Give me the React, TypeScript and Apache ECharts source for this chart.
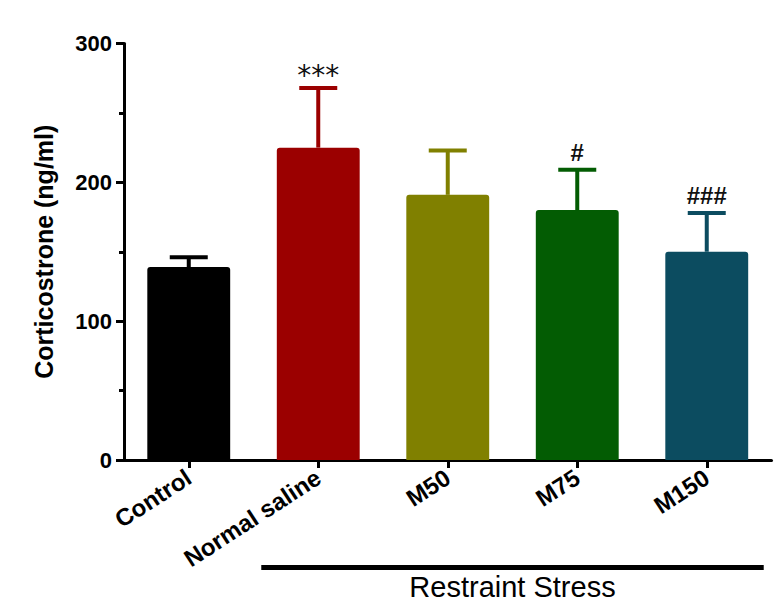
import React, { useEffect, useRef } from "react";
import * as echarts from "echarts";

const categories = ["Control", "Normal saline", "M50", "M75", "M150"];
const means = [139, 225, 191, 180, 150];
const upperErrors = [146, 268, 223, 209, 178];
const annotations = ["", "***", "", "#", "###"];
const barColors = ["#000000", "#9b0000", "#808000", "#035c03", "#0c4c60"];
const yMin = 0;
const yMax = 300;
const yInterval = 100;
const groupLabel = "Restraint Stress";
const yTitle = "Corticostrone (ng/ml)";

const FONT = "'Liberation Sans', Arial, Helvetica, sans-serif";

export default function App() {
  const ref = useRef<HTMLDivElement | null>(null);

  useEffect(() => {
    if (!ref.current) return;
    const chart = echarts.init(ref.current, undefined, { renderer: "svg" });

    const option: any = {
      animation: false,
      backgroundColor: "#ffffff",
      grid: { left: 124, right: 5.5, top: 43.5, bottom: 142, containLabel: false },
      xAxis: {
        type: "category",
        data: categories,
        axisLine: { show: true, lineStyle: { color: "#000", width: 3 } },
        axisTick: { show: true, alignWithLabel: true, length: 8, lineStyle: { color: "#000", width: 3 } },
        axisLabel: {
          rotate: 33,
          margin: 15,
          color: "#000",
          fontFamily: FONT,
          fontWeight: "bold",
          fontSize: 24,
          interval: 0,
        },
        splitLine: { show: false },
      },
      yAxis: {
        type: "value",
        min: yMin,
        max: yMax,
        interval: yInterval,
        name: yTitle,
        nameLocation: "middle",
        nameRotate: 90,
        nameGap: 68,
        nameTextStyle: { color: "#000", fontFamily: FONT, fontWeight: "bold", fontSize: 25 },
        axisLine: { show: true, lineStyle: { color: "#000", width: 3 } },
        axisTick: { show: true, length: 8, lineStyle: { color: "#000", width: 3 } },
        minorTick: { show: true, splitNumber: 2, length: 5, lineStyle: { color: "#000", width: 3 } },
        axisLabel: {
          margin: 12,
          color: "#000",
          fontFamily: FONT,
          fontWeight: "bold",
          fontSize: 22,
        },
        splitLine: { show: false },
      },
      series: [
        {
          type: "bar",
          barWidth: "64%",
          data: means.map((v, i) => ({
            value: v,
            itemStyle: { color: barColors[i], borderRadius: [3, 3, 0, 0] },
          })),
          z: 2,
        },
        {
          type: "custom",
          z: 3,
          encode: { x: 0, y: [1, 2] },
          data: categories.map((_, i) => [i, means[i], upperErrors[i]]),
          renderItem: (params: any, api: any) => {
            const idx = params.dataIndex;
            const base = api.coord([api.value(0), api.value(1)]);
            const top = api.coord([api.value(0), api.value(2)]);
            const color = barColors[idx];
            const capHalf = 19;
            const children: any[] = [
              {
                type: "line",
                shape: { x1: base[0], y1: base[1], x2: top[0], y2: top[1] },
                style: { stroke: color, lineWidth: 4 },
              },
              {
                type: "line",
                shape: { x1: top[0] - capHalf, y1: top[1], x2: top[0] + capHalf, y2: top[1] },
                style: { stroke: color, lineWidth: 4 },
              },
            ];
            const ann = annotations[idx];
            if (ann) {
              const isStar = ann.indexOf("*") >= 0;
              children.push({
                type: "text",
                x: top[0],
                y: top[1] + (isStar ? -12 : -17),
                style: {
                  text: ann,
                  fill: "#111",
                  font: isStar ? `28px 'DejaVu Sans', sans-serif` : `bold 24px ${FONT}`,
                  textAlign: "center",
                  textVerticalAlign: "middle",
                },
              });
            }
            return { type: "group", children };
          },
        },
      ],
    };

    chart.setOption(option);

    const c1 = chart.convertToPixel({ xAxisIndex: 0 }, 1) as number;
    const c4 = chart.convertToPixel({ xAxisIndex: 0 }, 4) as number;
    const band = (chart.convertToPixel({ xAxisIndex: 0 }, 2) as number) - c1;
    const x1 = c1 - band * 0.44;
    const x2 = c4 + band * 0.44;
    chart.setOption({
      graphic: [
        {
          type: "line",
          shape: { x1, y1: 567.5, x2, y2: 567.5 },
          style: { stroke: "#000", lineWidth: 5 },
        },
        {
          type: "text",
          x: (x1 + x2) / 2,
          y: 587,
          style: {
            text: groupLabel,
            fill: "#000",
            font: `29px ${FONT}`,
            textAlign: "center",
            textVerticalAlign: "middle",
          },
        },
      ],
    });

    return () => chart.dispose();
  }, []);

  return (
    <div
      ref={ref}
      style={{ position: "absolute", left: 0, top: 0, width: 777, height: 602 }}
    />
  );
}
